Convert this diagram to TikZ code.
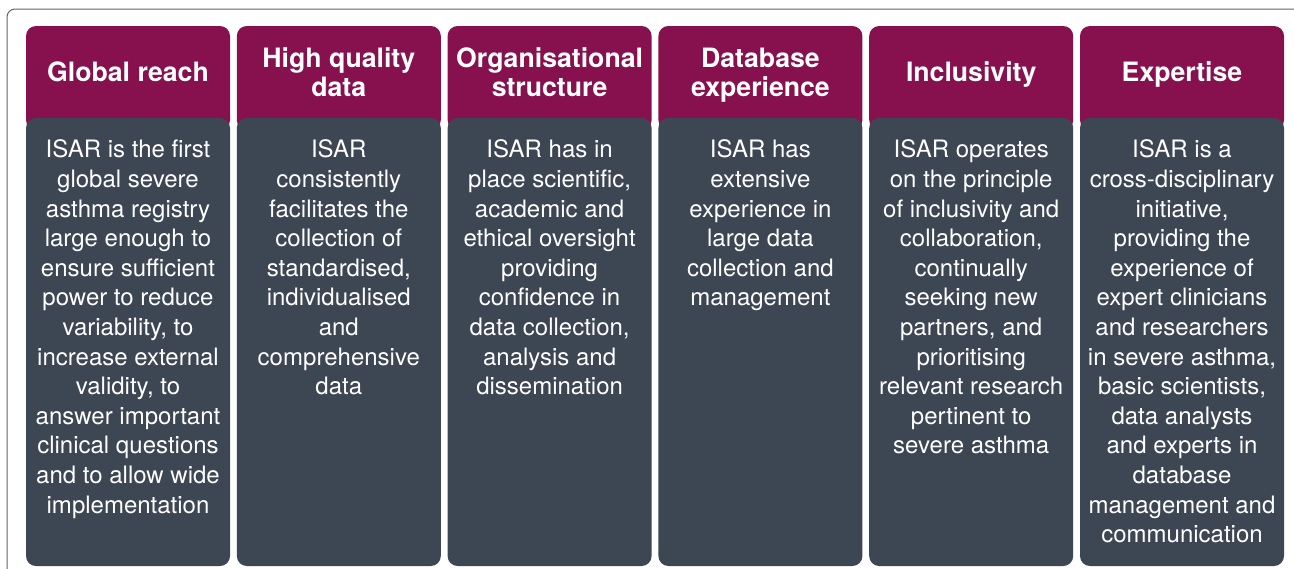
\documentclass[tikz,border=0pt]{standalone}
\usepackage{fontspec}
\setmainfont{TeX Gyre Heros}
\usetikzlibrary{positioning, backgrounds}
\definecolor{isarred}{RGB}{134,17,78}
\definecolor{isarslate}{RGB}{61,70,83}
\definecolor{framegray}{RGB}{100,100,100}

\begin{document}
\begin{tikzpicture}[
    node distance=5.1pt,   % gap between columns
    head/.style={minimum width=153pt, minimum height=69pt, inner sep=0pt, outer sep=0pt,
      text depth=0pt, align=center, text=white, font=\bfseries\fontsize{20}{22}\selectfont},
    body/.style={inner sep=0pt, outer sep=0pt, align=center, text=white,
      font=\fontsize{18}{22.2}\selectfont},
    headfill/.style={fill=isarred, rounded corners=7.5pt},
    bodyfill/.style={fill=isarslate, rounded corners=7.5pt}
  ]
  \useasboundingbox (0,0) rectangle (970.5pt,-426pt);
  \clip (0,0) rectangle (970.5pt,-426pt);

  % --- OUTER FRAME ---
  \draw[framegray, line width=0.75pt, rounded corners=6pt]
    (5.25pt,-6.75pt) rectangle (990pt,-440pt);

  % --- HEADERS ---
  \node[head] (hd1) at (96pt,-54pt) {Global reach};
  \node[head, right=of hd1] (hd2) {High quality\\data};
  \node[head, right=of hd2] (hd3) {Organisational\\structure};
  \node[head, right=of hd3] (hd4) {Database\\experience};
  \node[head, right=of hd4] (hd5) {Inclusivity};
  \node[head, right=of hd5] (hd6) {Expertise};

  % --- BODY TEXT ---
  \node[body, below=16.5pt of hd1.south] (bd1) {ISAR is the first\\global severe\\asthma registry\\large enough to\\ensure sufficient\\power to reduce\\variability, to\\increase external\\validity, to\\answer important\\clinical questions\\and to allow wide\\implementation};
  \node[body, below=16.5pt of hd2.south] (bd2) {ISAR\\consistently\\facilitates the\\collection of\\standardised,\\individualised\\and\\comprehensive\\data};
  \node[body, below=16.5pt of hd3.south] (bd3) {ISAR has in\\place scientific,\\academic and\\ethical oversight\\providing\\confidence in\\data collection,\\analysis and\\dissemination};
  \node[body, below=16.5pt of hd4.south] (bd4) {ISAR has\\extensive\\experience in\\large data\\collection and\\management};
  \node[body, below=16.5pt of hd5.south] (bd5) {ISAR operates\\on the principle\\of inclusivity and\\collaboration,\\continually\\seeking new\\partners, and\\prioritising\\relevant research\\pertinent to\\severe asthma};
  \node[body, below=16.5pt of hd6.south] (bd6) {ISAR is a\\cross-disciplinary\\initiative,\\providing the\\experience of\\expert clinicians\\and researchers\\in severe asthma,\\basic scientists,\\data analysts\\and experts in\\database\\management and\\communication};

  % --- COLUMN BOXES ---
  \begin{scope}[on background layer]
    \foreach \c in {1,...,6} {
      \fill[headfill] (hd\c.north west) rectangle ([yshift=-9pt]hd\c.south east);
      \fill[bodyfill] (hd\c.south west) rectangle ([yshift=-336pt]hd\c.south east);
    }
  \end{scope}

\end{tikzpicture}
\end{document}
